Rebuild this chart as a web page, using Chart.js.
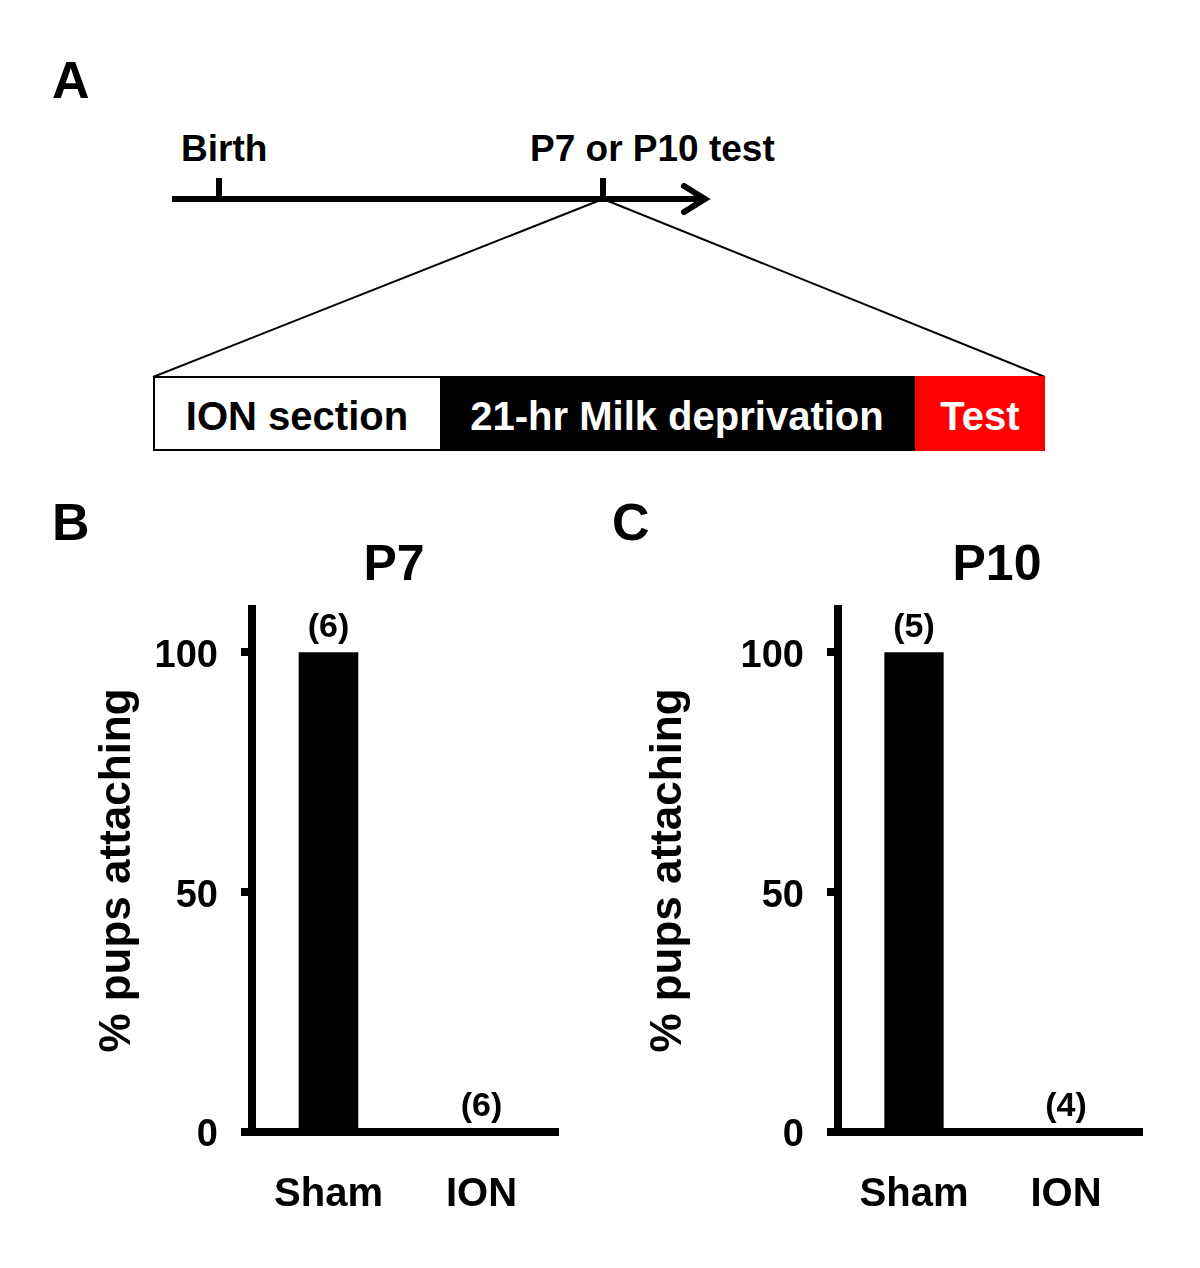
<!DOCTYPE html>
<html>
<head>
<meta charset="utf-8">
<script src="https://cdn.jsdelivr.net/npm/chart.js@4/dist/chart.umd.min.js"></script>
<style>
  body { margin: 0; background: #fff; }
  #page { position: relative; width: 1200px; height: 1268px; font-family: "Liberation Sans", Arial, sans-serif; }
  svg, canvas { position: absolute; }
  svg text { font-family: "Liberation Sans", Arial, sans-serif; font-weight: bold; }
</style>
</head>
<body>
<div id="page">
  <svg width="1200" height="600" style="left:0;top:0">
    <text x="52" y="98" font-size="52">A</text>
    <!-- timeline -->
    <line x1="172" y1="199" x2="703" y2="199" stroke="#000" stroke-width="6"/>
    <polyline points="684,186 705,199 684,212" fill="none" stroke="#000" stroke-width="6" stroke-linecap="round"/>
    <line x1="219" y1="178" x2="219" y2="199" stroke="#000" stroke-width="6"/>
    <line x1="603" y1="178" x2="603" y2="199" stroke="#000" stroke-width="6"/>
    <text x="181" y="161" font-size="37">Birth</text>
    <text x="530" y="161" font-size="37">P7 or P10 test</text>
    <!-- zoom lines -->
    <line x1="603" y1="199" x2="153" y2="377" stroke="#000" stroke-width="2"/>
    <line x1="603" y1="199" x2="1045" y2="377" stroke="#000" stroke-width="2"/>
    <!-- protocol bar -->
    <rect x="154" y="377" width="287" height="73" fill="#fff" stroke="#000" stroke-width="2"/>
    <rect x="441" y="376" width="474" height="75" fill="#000"/>
    <rect x="915" y="376" width="130" height="75" fill="#ff0000"/>
    <text x="297" y="430" font-size="40" text-anchor="middle">ION section</text>
    <text x="677" y="430" font-size="40" text-anchor="middle" fill="#fff">21-hr Milk deprivation</text>
    <text x="980" y="430" font-size="40" text-anchor="middle" fill="#fff">Test</text>
    <!-- panel letters and titles -->
    <text x="52" y="540" font-size="52">B</text>
    <text x="612" y="540" font-size="52">C</text>
    <text x="394" y="580" font-size="50" text-anchor="middle">P7</text>
    <text x="997" y="580" font-size="50" text-anchor="middle">P10</text>
  </svg>
  <canvas id="chartB" width="520" height="668" style="left:60px;top:582px"></canvas>
  <canvas id="chartC" width="540" height="668" style="left:620px;top:582px"></canvas>
</div>
<script>
const categories = ['Sham', 'ION'];
const p7Values = [100, 0];
const p10Values = [100, 0];
const p7Counts = ['(6)', '(6)'];
const p10Counts = ['(5)', '(4)'];
const yTicks = [0, 50, 100];

const FONT = '"Liberation Sans", Arial, sans-serif';

// n per group, written above each bar
const countLabels = {
  id: 'countLabels',
  afterDatasetsDraw(chart, args, opts) {
    const ctx = chart.ctx;
    const meta = chart.getDatasetMeta(0);
    ctx.save();
    ctx.font = 'bold 34px ' + FONT;
    ctx.fillStyle = '#000';
    ctx.textAlign = 'center';
    ctx.textBaseline = 'bottom';
    meta.data.forEach((bar, i) => ctx.fillText(opts.labels[i], bar.x, bar.y - 8));
    ctx.restore();
  }
};

function makeChart(id, values, counts, cfg) {
  return new Chart(document.getElementById(id), {
    type: 'bar',
    data: {
      labels: categories,
      datasets: [{
        data: values,
        backgroundColor: '#000',
        borderWidth: 0,
        barPercentage: 0.39,
        categoryPercentage: 1
      }]
    },
    options: {
      responsive: false,
      animation: false,
      layout: { padding: { top: 27, right: cfg.padRight, bottom: 0, left: 0 } },
      plugins: {
        legend: { display: false },
        tooltip: { enabled: false },
        countLabels: { labels: counts }
      },
      scales: {
        x: {
          grid: { display: false },
          border: { display: true, color: '#000', width: 8 },
          ticks: { color: '#000', font: { family: FONT, size: 40, weight: 'bold' }, padding: 31 },
          afterFit: s => { s.height = 118; s.paddingLeft = 0; s.paddingRight = 0; }
        },
        y: {
          min: 0,
          max: 109,
          afterBuildTicks: s => { s.ticks = yTicks.map(v => ({ value: v })); },
          grid: { drawOnChartArea: false, tickLength: 11, tickWidth: 8, tickColor: '#000', lineWidth: 8 },
          border: { display: true, color: '#000', width: 8 },
          ticks: { color: '#000', font: { family: FONT, size: 38, weight: 'bold' }, padding: 23, labelOffset: 4 },
          title: {
            display: true,
            text: '% pups attaching',
            color: '#000',
            font: { family: FONT, size: 44, weight: 'bold' },
            padding: { top: cfg.titlePad, bottom: 0 }
          },
          afterFit: s => { s.width = cfg.yWidth; s.paddingTop = 0; s.paddingBottom = 0; }
        }
      }
    },
    plugins: [countLabels]
  });
}

makeChart('chartB', p7Values, p7Counts, { yWidth: 192, padRight: 22, titlePad: 31 });
makeChart('chartC', p10Values, p10Counts, { yWidth: 218, padRight: 18, titlePad: 22 });
</script>
</body>
</html>
